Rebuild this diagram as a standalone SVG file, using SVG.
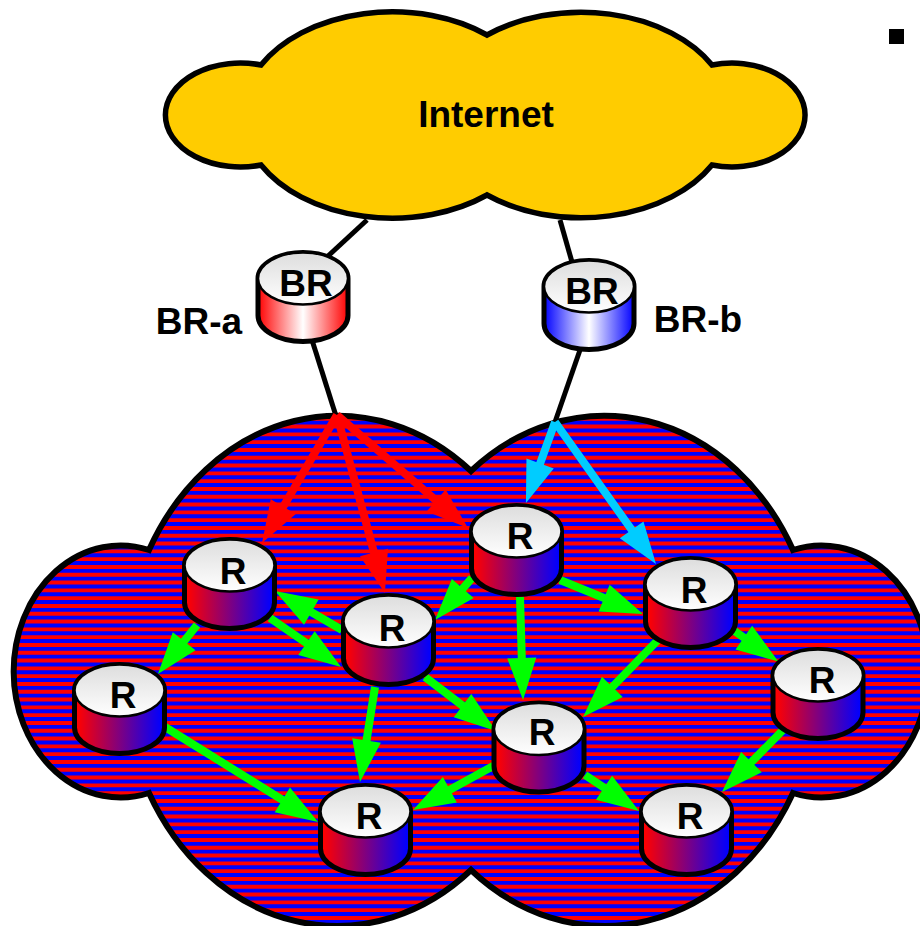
<svg xmlns="http://www.w3.org/2000/svg" width="920" height="926" viewBox="0 0 920 926">
<style>
text{font-family:"Liberation Sans",Arial,sans-serif;font-weight:bold;font-size:37px;fill:#000;text-anchor:middle}
.link{stroke:#000;stroke-width:5;fill:none}
.r{stroke:#f00;stroke-width:8;marker-end:url(#hr)}
.g{stroke:#0f0;stroke-width:8;marker-end:url(#hg)}
.c{stroke:#0cf;stroke-width:8;marker-end:url(#hc)}
.top{fill:url(#top);stroke:#000;stroke-width:2.5}
.body{stroke:#000;stroke-width:5}
</style>
<defs>
<path id="cloudShape" d="M471,471 A214,254 0 0 0 149,550 A107,126 0 1 0 149,793 A214,254 0 0 0 471,870 A214,254 0 0 0 793,793 A107,126 0 1 0 793,550 A214,254 0 0 0 471,471 Z"/>
<clipPath id="cloudClip"><use href="#cloudShape"/></clipPath>
<linearGradient id="top" x1="0" y1="0" x2="0" y2="1"><stop offset="0" stop-color="#ddd"/><stop offset="1" stop-color="#fff"/></linearGradient>
<linearGradient id="bodyR" x1="0" y1="0" x2="1" y2="0"><stop offset="0.03" stop-color="#f00"/><stop offset="0.97" stop-color="#00f"/></linearGradient>
<linearGradient id="bodyA" x1="0" y1="0" x2="1" y2="0"><stop offset="0" stop-color="#f00"/><stop offset="0.5" stop-color="#fff"/><stop offset="1" stop-color="#f00"/></linearGradient>
<linearGradient id="bodyB" x1="0" y1="0" x2="1" y2="0"><stop offset="0" stop-color="#00f"/><stop offset="0.5" stop-color="#fff"/><stop offset="1" stop-color="#00f"/></linearGradient>
<marker id="hr" markerUnits="userSpaceOnUse" markerWidth="42" markerHeight="30" viewBox="0 0 42 30" refX="27" refY="15" orient="auto" overflow="visible"><path d="M0,0.5 L42,15 L0,29.5 Z" fill="#f00"/></marker>
<marker id="hg" markerUnits="userSpaceOnUse" markerWidth="42" markerHeight="30" viewBox="0 0 42 30" refX="27" refY="15" orient="auto" overflow="visible"><path d="M0,0.5 L42,15 L0,29.5 Z" fill="#0f0"/></marker>
<marker id="hc" markerUnits="userSpaceOnUse" markerWidth="42" markerHeight="30" viewBox="0 0 42 30" refX="27" refY="15" orient="auto" overflow="visible"><path d="M0,0.5 L42,15 L0,29.5 Z" fill="#0cf"/></marker>
<g id="cylR"><path class="body" d="M-45,28.5 A45,26 0 0 1 45,28.5 V65.5 A45,26 0 0 1 -45,65.5 Z" fill="url(#bodyR)"/><ellipse class="top" cx="0" cy="28.5" rx="45" ry="26"/></g>
<g id="cylA"><path class="body" d="M-45,28.5 A45,26 0 0 1 45,28.5 V65.5 A45,26 0 0 1 -45,65.5 Z" fill="url(#bodyA)"/><ellipse class="top" cx="0" cy="28.5" rx="45" ry="26"/></g>
<g id="cylB"><path class="body" d="M-45,28.5 A45,26 0 0 1 45,28.5 V65.5 A45,26 0 0 1 -45,65.5 Z" fill="url(#bodyB)"/><ellipse class="top" cx="0" cy="28.5" rx="45" ry="26"/></g>
</defs>
<rect width="920" height="926" fill="#fff"/>
<rect x="889" y="29" width="15" height="15" fill="#000"/>

<g id="internet">
<path d="M487,35 A150,103 0 0 0 261,65 A75,52 0 1 0 261,165 A150,103 0 0 0 487,195 A150,103 0 0 0 712,165 A73,52 0 1 0 712,65 A150,103 0 0 0 487,35 Z" fill="#fc0" stroke="#000" stroke-width="5.5"/>
<text x="486" y="127">Internet</text>
</g>

<g id="network">
<g clip-path="url(#cloudClip)">
<rect y="410" width="920" height="516" fill="#00f"/>
<line x1="460" y1="3.4" x2="460" y2="926" stroke="#f00" stroke-width="920" stroke-dasharray="3.9 3.9"/>
</g>
<use href="#cloudShape" fill="none" stroke="#000" stroke-width="6"/>
</g>

<g id="connectors">
<line class="link" x1="367" y1="220" x2="328" y2="256"/>
<line class="link" x1="560" y1="220" x2="572" y2="262"/>
<line class="link" x1="312" y1="340" x2="336" y2="416"/>
<line class="link" x1="580" y1="350" x2="555" y2="422"/>
<line class="r" x1="337" y1="415" x2="269.6" y2="530"/>
<line class="r" x1="337" y1="415" x2="381" y2="578.5"/>
<line class="r" x1="337" y1="415" x2="456.6" y2="518.2"/>
<line class="c" x1="555" y1="422" x2="531" y2="488.9"/>
<line class="c" x1="555" y1="422" x2="647.3" y2="551.8"/>
<line class="g" x1="197" y1="625" x2="167.3" y2="662.3"/>
<line class="g" x1="342" y1="630" x2="288" y2="598.5"/>
<line class="g" x1="270" y1="618" x2="328.7" y2="658.5"/>
<line class="g" x1="472" y1="578" x2="444.9" y2="608.8"/>
<line class="g" x1="520" y1="597" x2="522.6" y2="685"/>
<line class="g" x1="560" y1="580" x2="629.1" y2="608.3"/>
<line class="g" x1="658" y1="640" x2="593.5" y2="706.3"/>
<line class="g" x1="733" y1="630" x2="766" y2="653"/>
<line class="g" x1="375" y1="687" x2="362.3" y2="767.2"/>
<line class="g" x1="425" y1="677" x2="484" y2="722"/>
<line class="g" x1="165" y1="727" x2="305.3" y2="814.1"/>
<line class="g" x1="495" y1="765" x2="426.2" y2="802.8"/>
<line class="g" x1="585" y1="775" x2="626.5" y2="802.7"/>
<line class="g" x1="783" y1="730" x2="732.5" y2="781.3"/>
</g>

<g id="br-a"><use href="#cylA" x="303" y="250"/><text x="306" y="296">BR</text><text x="199" y="334">BR-a</text></g>
<g id="br-b"><use href="#cylB" x="589" y="258"/><text x="592" y="304">BR</text><text x="698" y="332">BR-b</text></g>
<g id="r1"><use href="#cylR" x="229.5" y="537"/><text x="233" y="584">R</text></g>
<g id="r2"><use href="#cylR" x="388.5" y="593"/><text x="392" y="641">R</text></g>
<g id="r3"><use href="#cylR" x="516.5" y="503"/><text x="520" y="549">R</text></g>
<g id="r4"><use href="#cylR" x="690.5" y="556"/><text x="694" y="603">R</text></g>
<g id="r5"><use href="#cylR" x="119.5" y="662"/><text x="123" y="708">R</text></g>
<g id="r6"><use href="#cylR" x="539" y="700.5"/><text x="542" y="745">R</text></g>
<g id="r7"><use href="#cylR" x="818" y="647"/><text x="822" y="693">R</text></g>
<g id="r8"><use href="#cylR" x="365.5" y="783"/><text x="369" y="829">R</text></g>
<g id="r9"><use href="#cylR" x="686.5" y="783"/><text x="690" y="829">R</text></g>
</svg>
